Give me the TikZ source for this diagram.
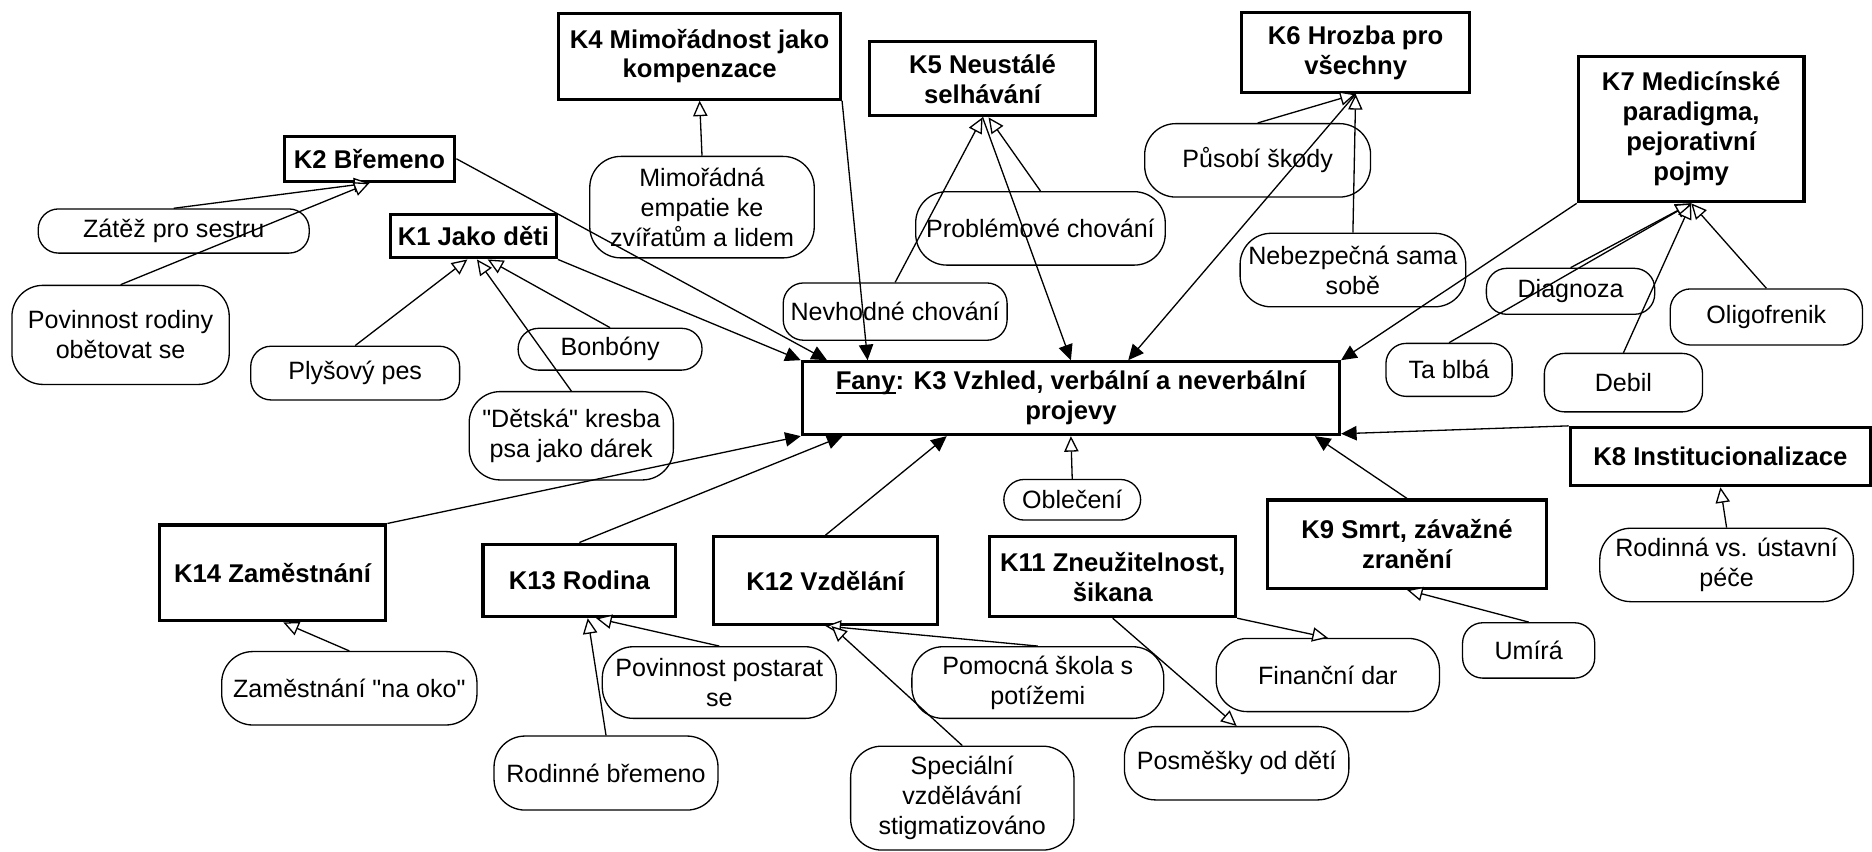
\documentclass[tikz,border=0pt]{standalone}
\usepackage{fontspec}
\setmainfont{Liberation Sans}[Ligatures=TeXOff]
\usetikzlibrary{arrows.meta, positioning}
\newcommand{\undl}[1]{\setbox0\hbox{#1}\rlap{\rule[-3pt]{\wd0}{1.4pt}}\box0}

\begin{document}
\begin{tikzpicture}[
    x=1pt, y=-1pt,
    font=\fontsize{21}{25}\selectfont,
    kbox/.style={
        draw, line width=2.6pt, align=center, inner sep=0pt,
        font=\fontsize{21.5}{25}\selectfont\bfseries
    },
    sub/.style={
        draw, line width=1.1pt, rounded corners=17pt, align=center, inner sep=0pt
    },
    tall/.style={rounded corners=26pt},
    tomain/.style={-{Triangle[length=13pt, width=12pt]}, line width=1.1pt},
    tosub/.style={-{Triangle[open, length=13pt, width=12pt, fill=white]}, line width=1.1pt}
]
\useasboundingbox (0,0) rectangle (1568,713);

% Categories
\node[kbox, minimum width=450pt, minimum height=61pt] (k3) at (897,333.5) {\undl{Fany}: K3 Vzhled, verbální a neverbální\\projevy};
\node[kbox, minimum width=139pt, minimum height=36pt] (k1) at (396.5,198) {K1 Jako děti};
\node[kbox, minimum width=143pt, minimum height=38pt] (k2) at (309.5,133) {K2 Břemeno};
\node[kbox, minimum width=236pt, minimum height=72pt] (k4) at (586,47) {K4 Mimořádnost jako\\kompenzace};
\node[kbox, minimum width=189pt, minimum height=62pt] (k5) at (823,66) {K5 Neustálé\\selhávání};
\node[kbox, minimum width=191pt, minimum height=67pt] (k6) at (1135.5,44) {K6 Hrozba pro\\všechny};
\node[kbox, minimum width=189pt, minimum height=122pt] (k7) at (1416.5,108) {K7 Medicínské\\paradigma,\\pejorativní\\pojmy};
\node[kbox, minimum width=251.6pt, minimum height=48.8pt] (k8) at (1441,382.4) {K8 Institucionalizace};
\node[kbox, minimum width=233pt, minimum height=74pt] (k9) at (1178.5,455.8) {K9 Smrt, závažné\\zranění};
\node[kbox, minimum width=206pt, minimum height=67pt] (k11) at (932,483) {K11 Zneužitelnost,\\šikana};
\node[kbox, minimum width=188pt, minimum height=73.5pt] (k12) at (691.4,486.3) {K12 Vzdělání};
\node[kbox, minimum width=161.4pt, minimum height=60.8pt] (k13) at (485.3,486.1) {K13 Rodina};
\node[kbox, minimum width=189.8pt, minimum height=80.3pt] (k14) at (228.3,479.9) {K14 Zaměstnání};

% Codes
\node[sub, minimum width=227pt, minimum height=37pt] (zatez) at (145.5,193.5) {Zátěž pro sestru};
\node[sub, tall, minimum width=182pt, minimum height=83pt] (povrod) at (101,280.5) {Povinnost rodiny\\obětovat se};
\node[sub, minimum width=175pt, minimum height=45pt] (plys) at (297.5,312.5) {Plyšový pes};
\node[sub, minimum width=154pt, minimum height=35pt] (bonbony) at (511,292.5) {Bonbóny};
\node[sub, tall, minimum width=171pt, minimum height=74pt] (kresba) at (478.5,365) {"Dětská" kresba\\psa jako dárek};
\node[sub, tall, minimum width=188pt, minimum height=85pt] (empatie) at (588,173.5) {Mimořádná\\empatie ke\\zvířatům a lidem};
\node[sub, minimum width=187.5pt, minimum height=48pt] (nevhodne) at (749.8,261) {Nevhodné chování};
\node[sub, tall, minimum width=209pt, minimum height=61.5pt] (problem) at (871.5,191.3) {Problémové chování};
\node[sub, tall, minimum width=189.2pt, minimum height=61.5pt] (pusobi) at (1053.4,134.3) {Působí škody};
\node[sub, tall, minimum width=189pt, minimum height=61.6pt] (nebezp) at (1133.2,226.2) {Nebezpečná sama\\sobě};
\node[sub, minimum width=141pt, minimum height=38.5pt] (diagnoza) at (1315.5,244) {Diagnoza};
\node[sub, minimum width=105.7pt, minimum height=44.4pt] (tablba) at (1213.7,309.8) {Ta blbá};
\node[sub, minimum width=132.5pt, minimum height=49pt] (debil) at (1359.8,320.5) {Debil};
\node[sub, minimum width=161pt, minimum height=47pt] (oligo) at (1479.5,265.5) {Oligofrenik};
\node[sub, tall, minimum width=212.4pt, minimum height=61.5pt] (rodustav) at (1446.2,473.2) {Rodinná vs. ústavní\\péče};
\node[sub, minimum width=110.7pt, minimum height=46.4pt] (umira) at (1280.4,544.8) {Umírá};
\node[sub, tall, minimum width=187pt, minimum height=61.3pt] (financni) at (1112.2,565.4) {Finanční dar};
\node[sub, tall, minimum width=188pt, minimum height=61.4pt] (posmesky) at (1035.8,639.3) {Posměšky od dětí};
\node[sub, minimum width=114.6pt, minimum height=34pt] (obleceni) at (898.1,418.6) {Oblečení};
\node[sub, tall, minimum width=211pt, minimum height=60pt] (pomocna) at (869.3,571.7) {Pomocná škola s\\potížemi};
\node[sub, tall, minimum width=187pt, minimum height=87pt] (specialni) at (806,668.5) {Speciální\\vzdělávání\\stigmatizováno};
\node[sub, tall, minimum width=196pt, minimum height=60pt] (povpost) at (602.5,571.7) {Povinnost postarat\\se};
\node[sub, tall, minimum width=187.6pt, minimum height=62pt] (rodbrem) at (507.6,647.5) {Rodinné břemeno};
\node[sub, tall, minimum width=213.8pt, minimum height=61.5pt] (naoko) at (292.6,576.5) {Zaměstnání "na oko"};

% Categories to Fany
\draw[tomain] (k1.south east) -- (k3.north west);
\draw[tomain] (k2.east) -- ([xshift=22pt]k3.north west);
\draw[tomain] (k4.south east) -- ([xshift=56pt]k3.north west);
\draw[tomain] (k5.south) -- (k3.north);
\draw[tomain] (k6.south) -- ([xshift=48pt]k3.north);
\draw[tomain] (k7.south west) -- (k3.north east);
\draw[tomain] (k8.north west) -- ([yshift=2pt]k3.south east);
\draw[tomain] (k9.north) -- ([xshift=-22pt]k3.south east);
\draw[tomain] (k12.north) -- ([xshift=-104pt]k3.south);
\draw[tomain] (k13.north) -- ([xshift=35pt]k3.south west);
\draw[tomain] (k14.north east) -- (k3.south west);

% Codes to categories
\draw[tosub] (zatez.north) -- (k2.south);
\draw[tosub] (povrod.north) -- (k2.south);
\draw[tosub] (plys.north) -- ([xshift=-5pt]k1.south);
\draw[tosub] (kresba.north) -- ([xshift=3pt]k1.south);
\draw[tosub] (bonbony.north) -- ([xshift=12pt]k1.south);
\draw[tosub] (empatie.north) -- (k4.south);
\draw[tosub] (nevhodne.north) -- (k5.south);
\draw[tosub] (problem.north) -- ([xshift=5pt]k5.south);
\draw[tosub] (pusobi.north) -- (k6.south);
\draw[tosub] (nebezp.north) -- (k6.south);
\draw[tosub] (diagnoza.north) -- (k7.south);
\draw[tosub] (tablba.north) -- (k7.south);
\draw[tosub] (debil.north) -- (k7.south);
\draw[tosub] (oligo.north) -- (k7.south);
\draw[tosub] (obleceni.north) -- (k3.south);
\draw[tosub] (rodustav.north) -- (k8.south);
\draw[tosub] (umira.north) -- (k9.south);
\draw[tosub] (k11.south) -- (posmesky.north);
\draw[tosub] (k11.south east) -- (financni.north);
\draw[tosub] (pomocna.north) -- (k12.south);
\draw[tosub] (specialni.north) -- ([xshift=5pt]k12.south);
\draw[tosub] (povpost.north) -- ([xshift=14pt]k13.south);
\draw[tosub] (rodbrem.north) -- ([xshift=7pt]k13.south);
\draw[tosub] (naoko.north) -- ([xshift=9pt]k14.south);

\end{tikzpicture}
\end{document}
